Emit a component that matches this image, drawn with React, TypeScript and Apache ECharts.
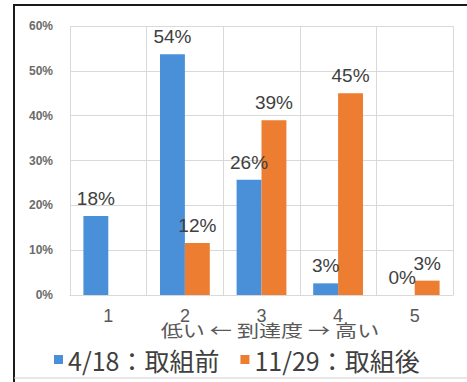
import React, { useEffect, useRef } from "react";
import * as echarts from "echarts";

const categories = ["1", "2", "3", "4", "5"];
const yTicks = [0, 10, 20, 30, 40, 50, 60];
const seriesNames = ["4/18：取組前", "11/29：取組後"];
const beforeValues: (number | string)[] = [17.6, 53.7, 25.7, 2.6, 0];
const afterValues: (number | string)[] = ["-", 11.6, 39.0, 45.0, 3.2];
const axisTitle = "低い ← 到達度 → 高い";

export default function App() {
  const ref = useRef<HTMLDivElement>(null);
  useEffect(() => {
    if (!ref.current) return;
    const chart = echarts.init(ref.current, null, { renderer: "svg" });
    const labelCfg = {
      show: true,
      position: "top",
      distance: 8,
      fontSize: 19,
      color: "#404040",
      fontFamily: "Liberation Sans",
      formatter: (p: any) => Math.round(Number(p.value)) + "%",
    };
    chart.setOption({
      animation: false,
      backgroundColor: "#ffffff",
      grid: { left: 70, right: 14, top: 26, bottom: 87 },
      xAxis: {
        type: "category",
        data: categories,
        axisLine: { show: true, lineStyle: { color: "#d9d9d9" } },
        axisTick: { show: false },
        splitLine: { show: true, lineStyle: { color: "#d9d9d9" } },
        axisLabel: {
          margin: 12,
          fontSize: 18,
          color: "#595959",
          fontFamily: "Liberation Sans",
        },
      },
      yAxis: {
        type: "value",
        min: yTicks[0],
        max: yTicks[yTicks.length - 1],
        interval: 10,
        axisLine: { show: false },
        axisTick: { show: false },
        splitLine: { show: true, lineStyle: { color: "#d9d9d9" } },
        axisLabel: {
          margin: 17,
          fontSize: 12,
          fontWeight: "bold",
          color: "#6b6b6b",
          fontFamily: "Liberation Sans",
          formatter: "{value}%",
        },
      },
      legend: {
        left: 49,
        top: 342,
        itemWidth: 9,
        itemHeight: 9,
        itemGap: 21,
        icon: "rect",
        data: seriesNames,
        textStyle: {
          fontSize: 25,
          color: "#404040",
          fontFamily: "Noto Sans CJK JP",
        },
      },
      series: [
        {
          name: seriesNames[0],
          type: "bar",
          data: beforeValues,
          barGap: "0%",
          barCategoryGap: "35%",
          itemStyle: { color: "#4A90D9" },
          label: labelCfg,
        },
        {
          name: seriesNames[1],
          type: "bar",
          data: afterValues,
          barGap: "0%",
          barCategoryGap: "35%",
          itemStyle: { color: "#ED7D31" },
          label: labelCfg,
        },
      ],
      graphic: [
        {
          type: "text",
          x: 270,
          y: 330,
          scaleX: 1.3,
          style: {
            text: axisTitle,
            fontSize: 17,
            fill: "#595959",
            fontFamily: "Noto Sans CJK JP",
            align: "center",
            verticalAlign: "middle",
          },
        },
        {
          type: "line",
          shape: { x1: 13, y1: 5, x2: 467, y2: 5 },
          style: { stroke: "#1a1a1a", lineWidth: 2 },
        },
        {
          type: "line",
          shape: { x1: 14, y1: 4, x2: 14, y2: 382 },
          style: { stroke: "#1a1a1a", lineWidth: 2 },
        },
        {
          type: "line",
          shape: { x1: 14, y1: 378, x2: 467, y2: 378 },
          style: { stroke: "#d0d0d0", lineWidth: 1 },
        },
      ],
    });
    return () => chart.dispose();
  }, []);
  return (
    <div
      ref={ref}
      style={{ position: "absolute", left: 0, top: 0, width: 467, height: 382 }}
    />
  );
}
